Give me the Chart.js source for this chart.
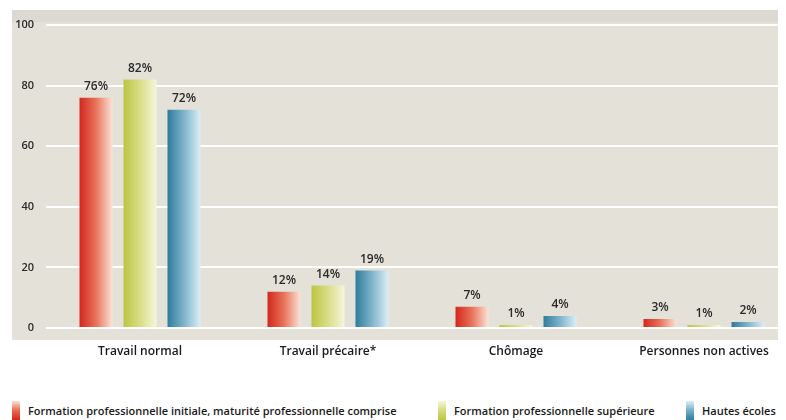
<!DOCTYPE html>
<html>
<head>
<meta charset="utf-8">
<script src="https://cdn.jsdelivr.net/npm/chart.js@4"></script>
<style>
    html, body { margin: 0; padding: 0; background: #fff; overflow: hidden; }
    .wrap { position: relative; width: 810px; height: 420px; }
    #myChart { position: absolute; left: 0; top: 0; }
    .legend { position: absolute; left: 0; top: 400px; width: 786px; height: 20px;
        font-family: "Open Sans", sans-serif; font-weight: 600; font-size: 11px; color: #1a1a1a; }
    .legend span.item { position: absolute; top: 0; display: flex; align-items: center; height: 20px; white-space: nowrap; }
    .legend i { display: inline-block; width: 8px; height: 19px; margin-right: 8px; }
</style>
</head>
<body>
<div class="wrap">
    <canvas id="myChart" width="810" height="370"></canvas>
    <div class="legend"></div>
</div>
<script>
const categories = ['Travail normal', 'Travail précaire*', 'Chômage', 'Personnes non actives'];
const seriesNames = [
    'Formation professionnelle initiale, maturité professionnelle comprise',
    'Formation professionnelle supérieure',
    'Hautes écoles'
];
const initiale = [76, 12, 7, 3];
const superieure = [82, 14, 1, 1];
const hautesEcoles = [72, 19, 4, 2];
const yTicks = [0, 20, 40, 60, 80, 100];

// left -> right shading of each bar
const shades = [
    ['#d3271d', '#e8735a', '#fbe3d8'],
    ['#bcc543', '#d9dd86', '#f6f6dc'],
    ['#2e7c9c', '#7fb4cb', '#dceef6']
];
const legendLeft = [12, 438, 686];

const CAT_PCT = 0.702;
const BAR_PCT = 0.75;

const barFill = (ctx) => {
    const stops = shades[ctx.datasetIndex];
    const chart = ctx.chart;
    const xs = chart.scales.x;
    if (!chart.chartArea || !xs || ctx.type !== 'data') return stops[0];
    const slot = xs.width / categories.length * CAT_PCT / 3;
    const cx = xs.getPixelForValue(ctx.dataIndex) + (ctx.datasetIndex - 1) * slot;
    const w = slot * BAR_PCT;
    const g = chart.ctx.createLinearGradient(cx - w / 2, 0, cx + w / 2, 0);
    g.addColorStop(0, stops[0]);
    g.addColorStop(0.5, stops[1]);
    g.addColorStop(1, stops[2]);
    return g;
};

const panel = {
    id: 'panel',
    beforeDraw(chart) {
        const c = chart.ctx;
        c.save();
        c.fillStyle = '#e4e1d9';
        c.fillRect(12, 10, 766, 330);
        c.fillStyle = 'rgba(0,0,0,0.03)';
        c.fillRect(12, 10, 766, 12);
        c.restore();
    }
};

const valueLabels = {
    id: 'valueLabels',
    afterDatasetsDraw(chart) {
        const c = chart.ctx;
        c.save();
        c.font = '600 12px "Open Sans", sans-serif';
        c.fillStyle = '#2a2a2a';
        c.textAlign = 'center';
        c.textBaseline = 'bottom';
        chart.data.datasets.forEach((ds, di) => {
            chart.getDatasetMeta(di).data.forEach((bar, i) => {
                c.fillText(ds.data[i] + '%', bar.x, bar.y - 5);
            });
        });
        c.restore();
    }
};

new Chart("myChart", {
    type: "bar",
    data: {
        labels: categories,
        datasets: [initiale, superieure, hautesEcoles].map((d, i) => ({
            label: seriesNames[i],
            data: d,
            backgroundColor: barFill,
            borderWidth: 0,
            categoryPercentage: CAT_PCT,
            barPercentage: BAR_PCT
        }))
    },
    options: {
        responsive: false,
        animation: false,
        layout: { padding: { top: 25, right: 12, bottom: 2, left: 0 } },
        plugins: {
            legend: { display: false },
            tooltip: { enabled: false }
        },
        scales: {
            x: {
                grid: { display: false, drawTicks: false },
                border: { display: false },
                ticks: {
                    padding: 16,
                    color: '#1a1a1a',
                    font: { family: 'Open Sans', weight: '600', size: 12 }
                },
                afterFit(scale) { scale.height = 40; }
            },
            y: {
                min: 0,
                max: 100,
                afterBuildTicks(scale) { scale.ticks = yTicks.map(v => ({ value: v })); },
                grid: { color: '#ffffff', lineWidth: 2, drawTicks: false },
                border: { display: false },
                ticks: {
                    padding: 12,
                    color: '#2a2a2a',
                    font: { family: 'Open Sans', weight: '600', size: 11 }
                },
                afterFit(scale) { scale.width = 46; }
            }
        }
    },
    plugins: [panel, valueLabels]
});

const populateLegend = () => {
    const box = document.querySelector(".legend");
    seriesNames.forEach((name, i) => {
        const item = document.createElement("span");
        item.className = "item";
        item.style.left = legendLeft[i] + "px";
        const s = shades[i];
        item.innerHTML = `<i style="background:linear-gradient(to bottom, ${s[2]}, ${s[1]} 45%, ${s[0]})"></i>${name}`;
        box.appendChild(item);
    });
};

populateLegend();
</script>
</body>
</html>
